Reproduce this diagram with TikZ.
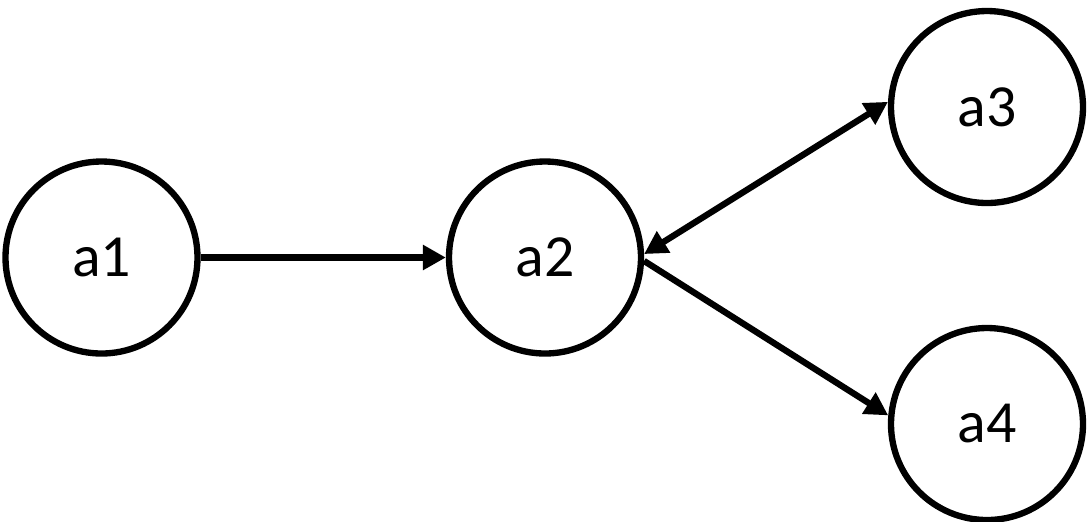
\documentclass[tikz,border=0pt]{standalone}
\usepackage{fontspec}
\setmainfont{Carlito}
\usetikzlibrary{arrows.meta}

\begin{document}
\begin{tikzpicture}[>={Triangle[length=2.3mm,width=2.4mm]},line width=1.8pt,
  state/.style={circle,draw,minimum size=1.92cm,inner sep=0pt,font=\fontsize{17}{20}\selectfont}]
\useasboundingbox (0,0) rectangle (10.88,5.21);
\node[state] (a1) at (1.015,2.635) {a1};
\node[state] (a2) at (5.45,2.635) {a2};
\node[state] (a3) at (9.87,4.14) {a3};
\node[state] (a4) at (9.87,0.97) {a4};
\draw[->] (a1) -- (a2);
\draw[<->] (a2.2) -- (a3.177);
\draw[->] (a2.-2) -- (a4.175);
\end{tikzpicture}
\end{document}
